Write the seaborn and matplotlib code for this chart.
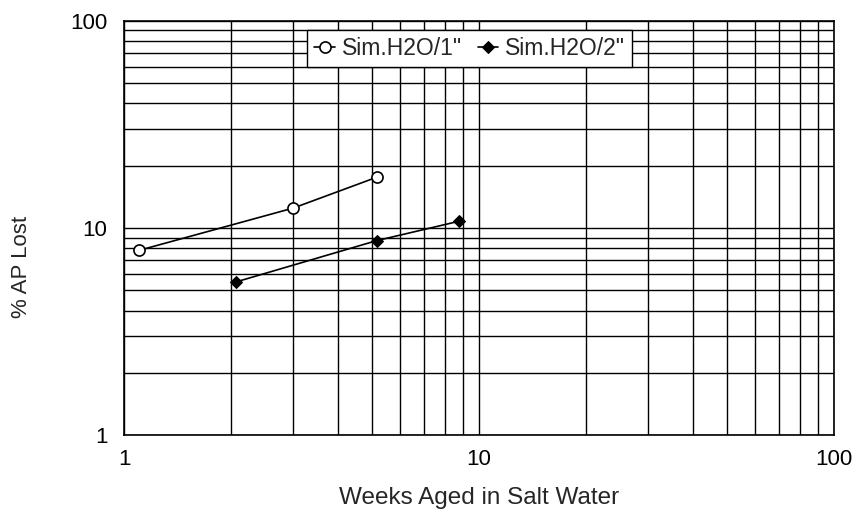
import numpy as np
import pandas as pd
import matplotlib
matplotlib.use("Agg")
import matplotlib.pyplot as plt
import seaborn as sns
from matplotlib.ticker import LogLocator, FixedLocator, NullFormatter, FuncFormatter

# data
weeks_1in = [1.1, 3.0, 5.15]
lost_1in = [7.8, 12.5, 17.6]
weeks_2in = [2.07, 5.15, 8.8]
lost_2in = [5.5, 8.7, 10.8]

df1 = pd.DataFrame({"Weeks": weeks_1in, "Lost": lost_1in})
df2 = pd.DataFrame({"Weeks": weeks_2in, "Lost": lost_2in})

sns.set_style("white")
plt.rcParams['font.family'] = ['Liberation Sans', 'DejaVu Sans']

fig = plt.figure(figsize=(8.62, 5.12), dpi=100)
ax = fig.add_axes([0.1439, 0.150, 0.8236, 0.809])

sns.lineplot(x="Weeks", y="Lost", data=df1, ax=ax, color="black", lw=1.2,
             marker="o", markersize=8, markerfacecolor="white",
             markeredgecolor="black", markeredgewidth=1.2, sort=False,
             label='Sim.H2O/1"')
sns.lineplot(x="Weeks", y="Lost", data=df2, ax=ax, color="black", lw=1.2,
             marker="D", markersize=6, markerfacecolor="black",
             markeredgecolor="black", sort=False, label='Sim.H2O/2"')

ax.set_xscale("log")
ax.set_yscale("log")
ax.set_xlim(1, 100)
ax.set_ylim(1, 100)

fmt = FuncFormatter(lambda v, p: "%g" % v)
ax.xaxis.set_major_locator(FixedLocator([1, 10, 100]))
ax.yaxis.set_major_locator(FixedLocator([1, 10, 100]))
ax.xaxis.set_major_formatter(fmt)
ax.yaxis.set_major_formatter(fmt)
ax.xaxis.set_minor_locator(LogLocator(base=10, subs=np.arange(2, 10)))
ax.yaxis.set_minor_locator(LogLocator(base=10, subs=np.arange(2, 10)))
ax.xaxis.set_minor_formatter(NullFormatter())
ax.yaxis.set_minor_formatter(NullFormatter())

ax.grid(True, which="both", color="black", lw=1.0)
ax.tick_params(which="both", length=0, labelsize=16, colors="black")
ax.tick_params(axis="x", pad=10)
ax.tick_params(axis="y", pad=12)
for s in ax.spines.values():
    s.set_color("black")
    s.set_linewidth(1.2)

ax.set_xlabel("Weeks Aged in Salt Water", fontsize=17.5, labelpad=12)
ax.set_ylabel("% AP Lost", fontsize=16)
ax.yaxis.set_label_coords(-0.13, 0.406)

leg = ax.legend(loc="upper center", bbox_to_anchor=(0.487, 0.978), ncol=2,
                frameon=True, fancybox=False, edgecolor="black",
                fontsize=16.5, handlelength=0.9, handletextpad=0.3,
                columnspacing=0.7, borderpad=0.3, borderaxespad=0)
leg.get_frame().set_linewidth(1.0)
leg.get_frame().set_alpha(1)

plt.savefig("out.png", dpi=100)
